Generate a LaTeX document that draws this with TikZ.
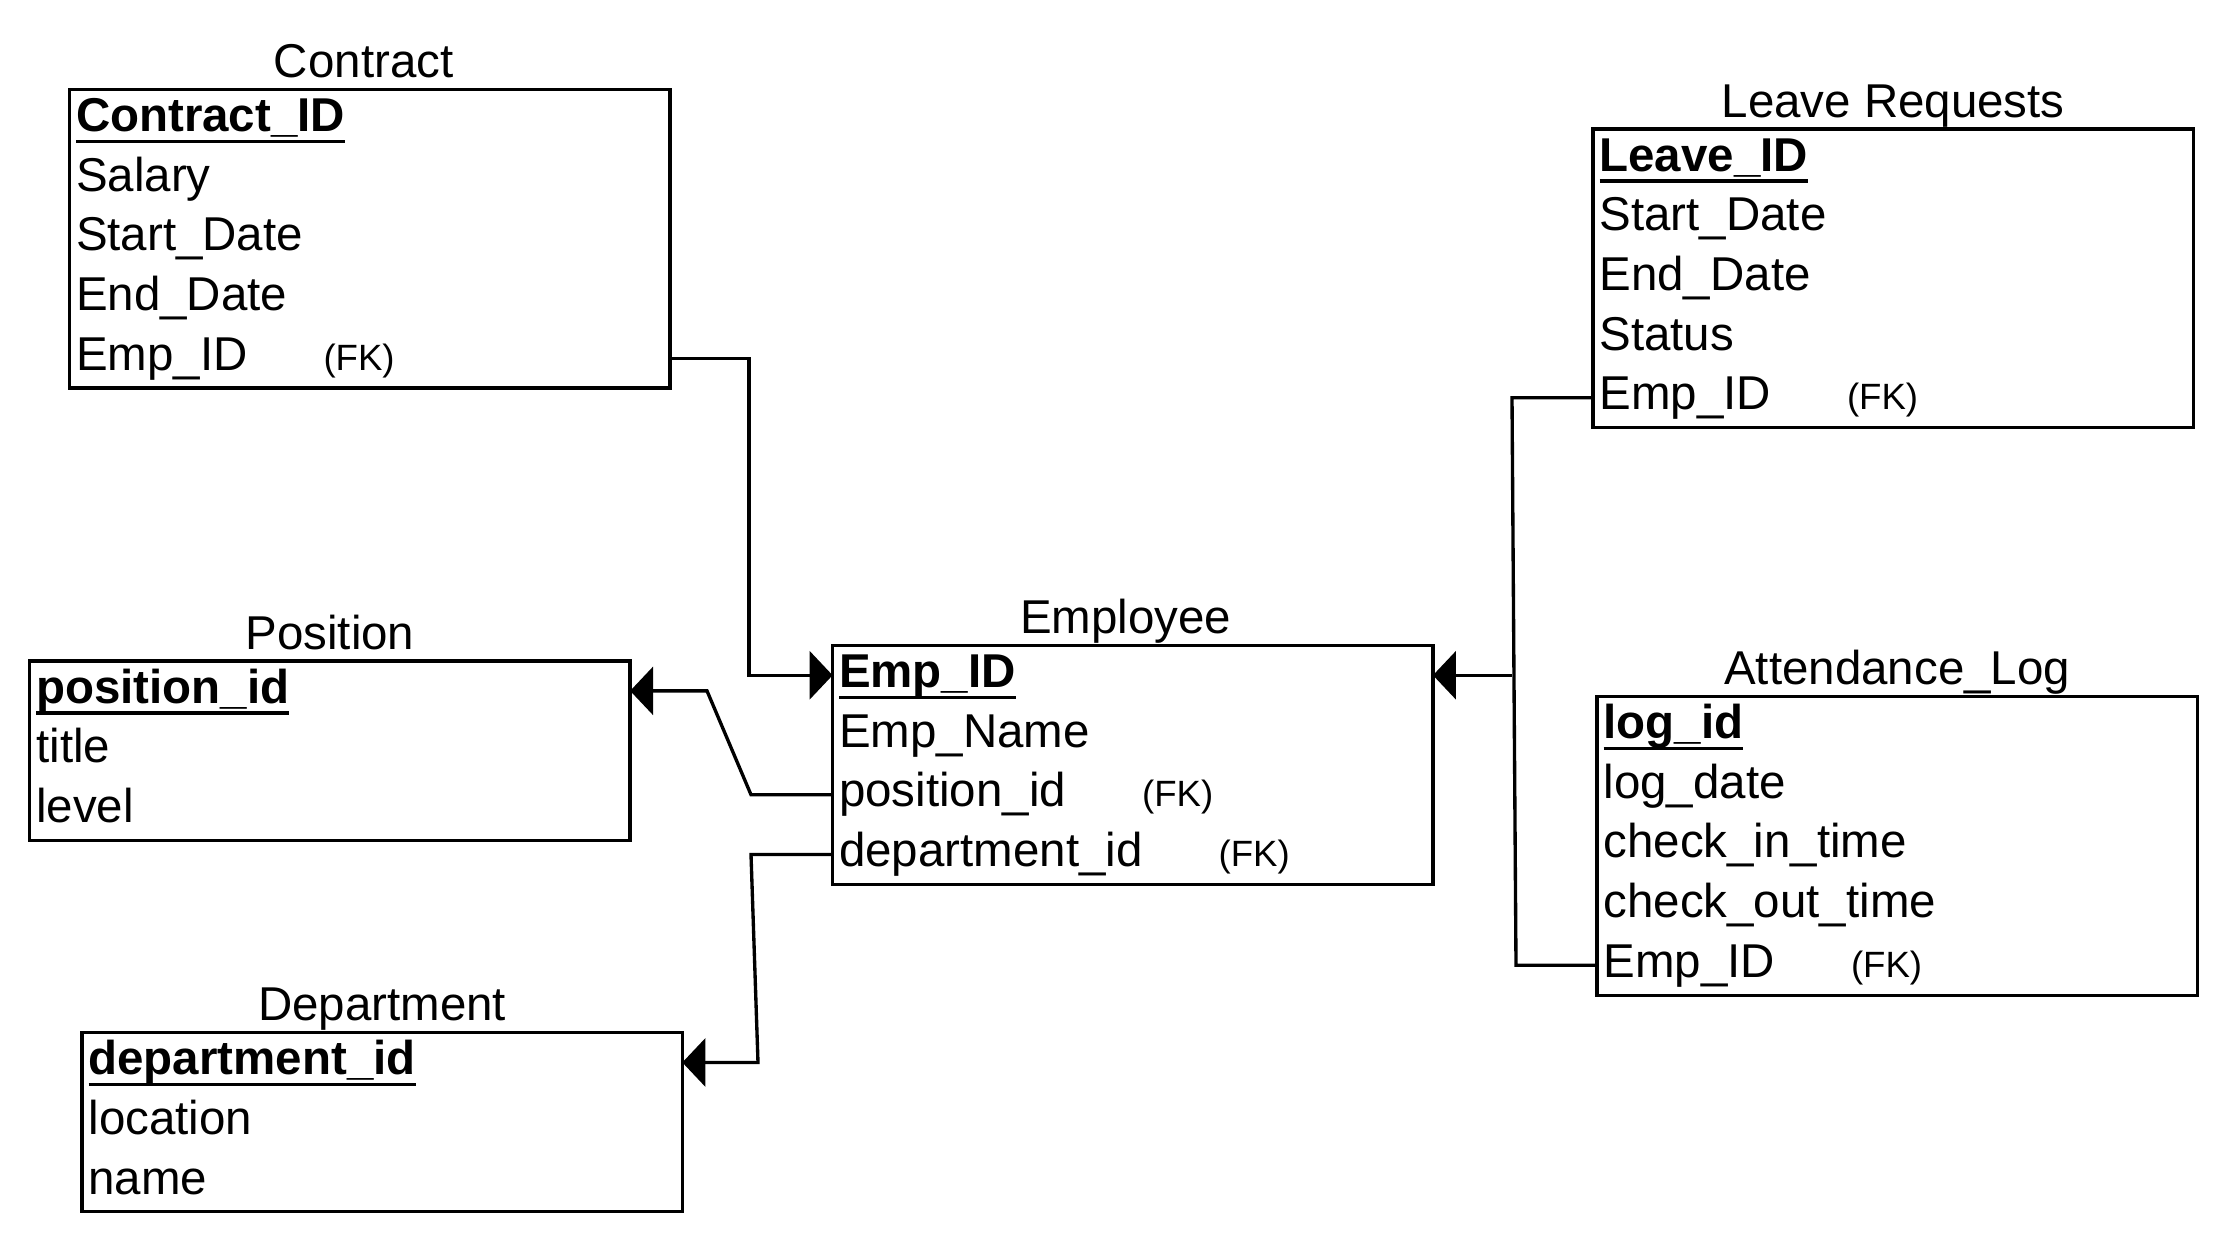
\documentclass[tikz,border=0pt]{standalone}
\usepackage{fontspec}
\setmainfont{Liberation Sans}
\usepackage{tikz}
\usetikzlibrary{arrows.meta,positioning,calc}
\tikzstyle{entity}=[draw,line width=0.95pt,minimum width=6cm,inner sep=0pt,outer sep=0pt,anchor=north west]
\tikzstyle{attr}=[inner xsep=0.065cm,inner ysep=0pt,outer sep=0pt,text height=0.42cm,text depth=0.177cm,anchor=north west]
\tikzstyle{heading}=[inner sep=0pt,outer sep=0pt,text depth=0pt,above=3.3pt]
\tikzstyle{link}=[line width=0.95pt]
\tikzstyle{fkarrow}=[-{Triangle[length=0.23cm,width=0.48cm]}]
\newcommand{\keyattr}[1]{\setbox0\hbox{\bfseries #1}\rlap{\rule[-3.3pt]{\wd0}{0.9pt}}\box0}
\newcommand{\fkey}{\hspace{0.76cm}{\fontsize{10.4}{12}\selectfont (FK)}}

\begin{document}
\begin{tikzpicture}[x=0.01cm,y=-0.01cm,font=\fontsize{13.5}{16}\selectfont]
\useasboundingbox (0,0) rectangle (2224,1240);

% Contract
\node [entity,minimum height=2.985cm] (con) at (69.5,89.4) {};
\node [heading,xshift=-0.06cm] (conT) at (con.north) {Contract};
\node [attr] (con1) at (con.north west) {\keyattr{Contract\_ID}};
\node [attr] (con2) at (con1.south west) {Salary};
\node [attr] (con3) at (con2.south west) {Start\_Date};
\node [attr] (con4) at (con3.south west) {End\_Date};
\node [attr] (con5) at (con4.south west) {Emp\_ID\fkey};

% Leave Requests
\node [entity,minimum height=2.985cm] (lea) at (1593,129) {};
\node [heading] (leaT) at (lea.north) {Leave Requests};
\node [attr] (lea1) at (lea.north west) {\keyattr{Leave\_ID}};
\node [attr] (lea2) at (lea1.south west) {Start\_Date};
\node [attr] (lea3) at (lea2.south west) {End\_Date};
\node [attr] (lea4) at (lea3.south west) {Status};
\node [attr] (lea5) at (lea4.south west) {Emp\_ID\fkey};

% Employee
\node [entity,minimum height=2.388cm] (emp) at (832.6,645.4) {};
\node [heading,xshift=-0.07cm] (empT) at (emp.north) {Employee};
\node [attr] (emp1) at (emp.north west) {\keyattr{Emp\_ID}};
\node [attr] (emp2) at (emp1.south west) {Emp\_Name};
\node [attr] (emp3) at (emp2.south west) {position\_id\fkey};
\node [attr] (emp4) at (emp3.south west) {department\_id\fkey};

% Position
\node [entity,minimum height=1.791cm] (pos) at (29.8,661) {};
\node [heading] (posT) at (pos.north) {Position};
\node [attr] (pos1) at (pos.north west) {\keyattr{position\_id}};
\node [attr] (pos2) at (pos1.south west) {title};
\node [attr] (pos3) at (pos2.south west) {level};

% Attendance_Log
\node [entity,minimum height=2.985cm] (att) at (1597,696.5) {};
\node [heading] (attT) at (att.north) {Attendance\_Log};
\node [attr] (att1) at (att.north west) {\keyattr{log\_id}};
\node [attr] (att2) at (att1.south west) {log\_date};
\node [attr] (att3) at (att2.south west) {check\_in\_time};
\node [attr] (att4) at (att3.south west) {check\_out\_time};
\node [attr] (att5) at (att4.south west) {Emp\_ID\fkey};

% Department
\node [entity,minimum height=1.791cm] (dep) at (82,1032.6) {};
\node [heading] (depT) at (dep.north) {Department};
\node [attr] (dep1) at (dep.north west) {\keyattr{department\_id}};
\node [attr] (dep2) at (dep1.south west) {location};
\node [attr] (dep3) at (dep2.south west) {name};

% bends
\coordinate (k1) at (749,500);
\coordinate (k2) at (751,0);
\coordinate (k3) at (707,0);
\coordinate (k4) at (758,0);
\coordinate (k5) at (1512,0);
\coordinate (k6) at (1516,0);

\draw [link,fkarrow] (con.east |- con5) -| (k1) |- (emp.west |- emp1);
\draw [link,fkarrow] (emp.west |- emp3) -- (k2 |- emp3) -- (k3 |- pos1) -- (pos.east |- pos1);
\draw [link,fkarrow] (emp.west |- emp4) -- (k2 |- emp4) -- (k4 |- dep1) -- (dep.east |- dep1);
\draw [link] (lea.west |- lea5) -- (k5 |- lea5) -- (k6 |- att5) -- (att.west |- att5);
\draw [link,fkarrow] (k5 |- emp1) -- (emp.east |- emp1);
\end{tikzpicture}
\end{document}
